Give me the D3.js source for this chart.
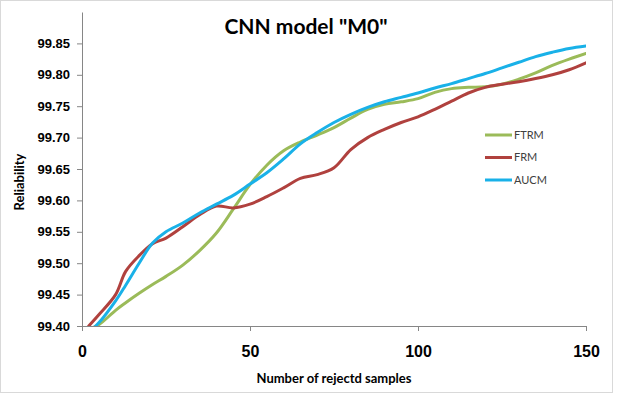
<!DOCTYPE html>
<html>
<head>
<meta charset="utf-8">
<script src="https://cdn.jsdelivr.net/npm/d3@7"></script>
<style>
  body { margin: 0; background: #fff; }
  svg { font-family: Lato, "Open Sans", sans-serif; }
</style>
</head>
<body>
<div id="chart"></div>
<script>
const samples = [2, 5, 10, 13, 17, 21, 25, 30, 35, 40, 45, 50, 55, 60, 65, 70, 75, 80, 85, 90, 95, 100, 105, 110, 115, 120, 125, 130, 135, 140, 145, 150];
const ftrm = [99.395, 99.402, 99.425, 99.437, 99.452, 99.466, 99.479, 99.497, 99.520, 99.548, 99.586, 99.625, 99.656, 99.679, 99.693, 99.704, 99.716, 99.731, 99.745, 99.753, 99.757, 99.762, 99.772, 99.778, 99.780, 99.781, 99.785, 99.793, 99.803, 99.815, 99.825, 99.834];
const frm = [99.400, 99.418, 99.450, 99.487, 99.512, 99.531, 99.540, 99.558, 99.577, 99.591, 99.588, 99.594, 99.606, 99.620, 99.635, 99.641, 99.652, 99.681, 99.700, 99.713, 99.724, 99.733, 99.745, 99.758, 99.771, 99.780, 99.785, 99.789, 99.794, 99.800, 99.808, 99.819];
const aucm = [99.390, 99.405, 99.440, 99.465, 99.500, 99.532, 99.550, 99.564, 99.580, 99.594, 99.608, 99.626, 99.644, 99.666, 99.690, 99.708, 99.724, 99.737, 99.748, 99.757, 99.764, 99.771, 99.779, 99.786, 99.794, 99.802, 99.811, 99.820, 99.829, 99.836, 99.842, 99.846];
const xTicks = [0, 50, 100, 150];
const yTicks = [99.40, 99.45, 99.50, 99.55, 99.60, 99.65, 99.70, 99.75, 99.80, 99.85];

const series = [
  { name: 'FTRM', values: ftrm, color: '#9bbb59' },
  { name: 'FRM', values: frm, color: '#b0413e' },
  { name: 'AUCM', values: aucm, color: '#19b1e8' }
];

const W = 618, H = 395;
const margin = { top: 12, right: 32, bottom: 69, left: 82 };
const width = W - margin.left - margin.right;
const height = H - margin.top - margin.bottom;

const svg = d3.select('#chart').append('svg')
  .attr('width', W)
  .attr('height', H);

// outer chart border
svg.append('rect')
  .attr('x', 0.5).attr('y', 0.5)
  .attr('width', 612).attr('height', 392)
  .attr('fill', 'none')
  .attr('stroke', '#d9d9d9');

const g = svg.append('g')
  .attr('transform', `translate(${margin.left},${margin.top})`);

const x = d3.scaleLinear().domain([0, 150]).range([0, width]);
const y = d3.scaleLinear().domain([99.40, 99.90]).range([height, 0]);

g.append('defs').append('clipPath').attr('id', 'plot')
  .append('rect').attr('width', width).attr('height', height);

// y axis
const yAxis = g.append('g')
  .call(d3.axisLeft(y).tickValues(yTicks).tickFormat(d3.format('.2f')).tickSize(5).tickSizeOuter(0));
yAxis.select('.domain').attr('stroke', '#868686');
yAxis.selectAll('.tick line').attr('stroke', '#868686');
yAxis.selectAll('text')
  .attr('x', -12)
  .style('font-size', '13px')
  .style('font-weight', 'bold')
  .style('fill', '#000');

// x axis
const xAxis = g.append('g')
  .attr('transform', `translate(0,${height})`)
  .call(d3.axisBottom(x).tickValues(xTicks).tickSize(5).tickSizeOuter(0));
xAxis.select('.domain').attr('stroke', '#868686');
xAxis.selectAll('.tick line').attr('stroke', '#868686');
xAxis.selectAll('text')
  .attr('y', 20)
  .style('font-size', '16px')
  .style('font-weight', 'bold')
  .style('fill', '#000');

const line = d3.line()
  .x(d => x(d[0]))
  .y(d => y(d[1]))
  .curve(d3.curveCatmullRom.alpha(0.5));

g.append('g').attr('clip-path', 'url(#plot)')
  .selectAll('path')
  .data(series)
  .enter()
  .append('path')
  .attr('fill', 'none')
  .attr('stroke', d => d.color)
  .attr('stroke-width', 3)
  .attr('stroke-linecap', 'round')
  .attr('d', d => line(samples.map((s, i) => [s, d.values[i]])));

// legend
const legend = g.selectAll('.legend')
  .data(series)
  .enter()
  .append('g')
  .attr('transform', (d, i) => `translate(${485 - margin.left},${135 - margin.top + i * 22.5})`);
legend.append('line')
  .attr('x1', 0).attr('x2', 27)
  .attr('stroke', d => d.color)
  .attr('stroke-width', 3);
legend.append('text')
  .attr('x', 29)
  .attr('dy', '0.35em')
  .style('font-size', '11px')
  .style('fill', '#404040')
  .text(d => d.name);

// titles
svg.append('text')
  .attr('x', 306).attr('y', 34)
  .attr('text-anchor', 'middle')
  .style('font-size', '21px')
  .style('font-weight', 'bold')
  .text('CNN model "M0"');

svg.append('text')
  .attr('x', 334).attr('y', 383)
  .attr('text-anchor', 'middle')
  .style('font-size', '13px')
  .style('font-weight', 'bold')
  .text('Number of rejectd samples');

svg.append('text')
  .attr('transform', 'translate(24,182) rotate(-90)')
  .attr('text-anchor', 'middle')
  .style('font-size', '13px')
  .style('font-weight', 'bold')
  .text('Reliability');
</script>
</body>
</html>
